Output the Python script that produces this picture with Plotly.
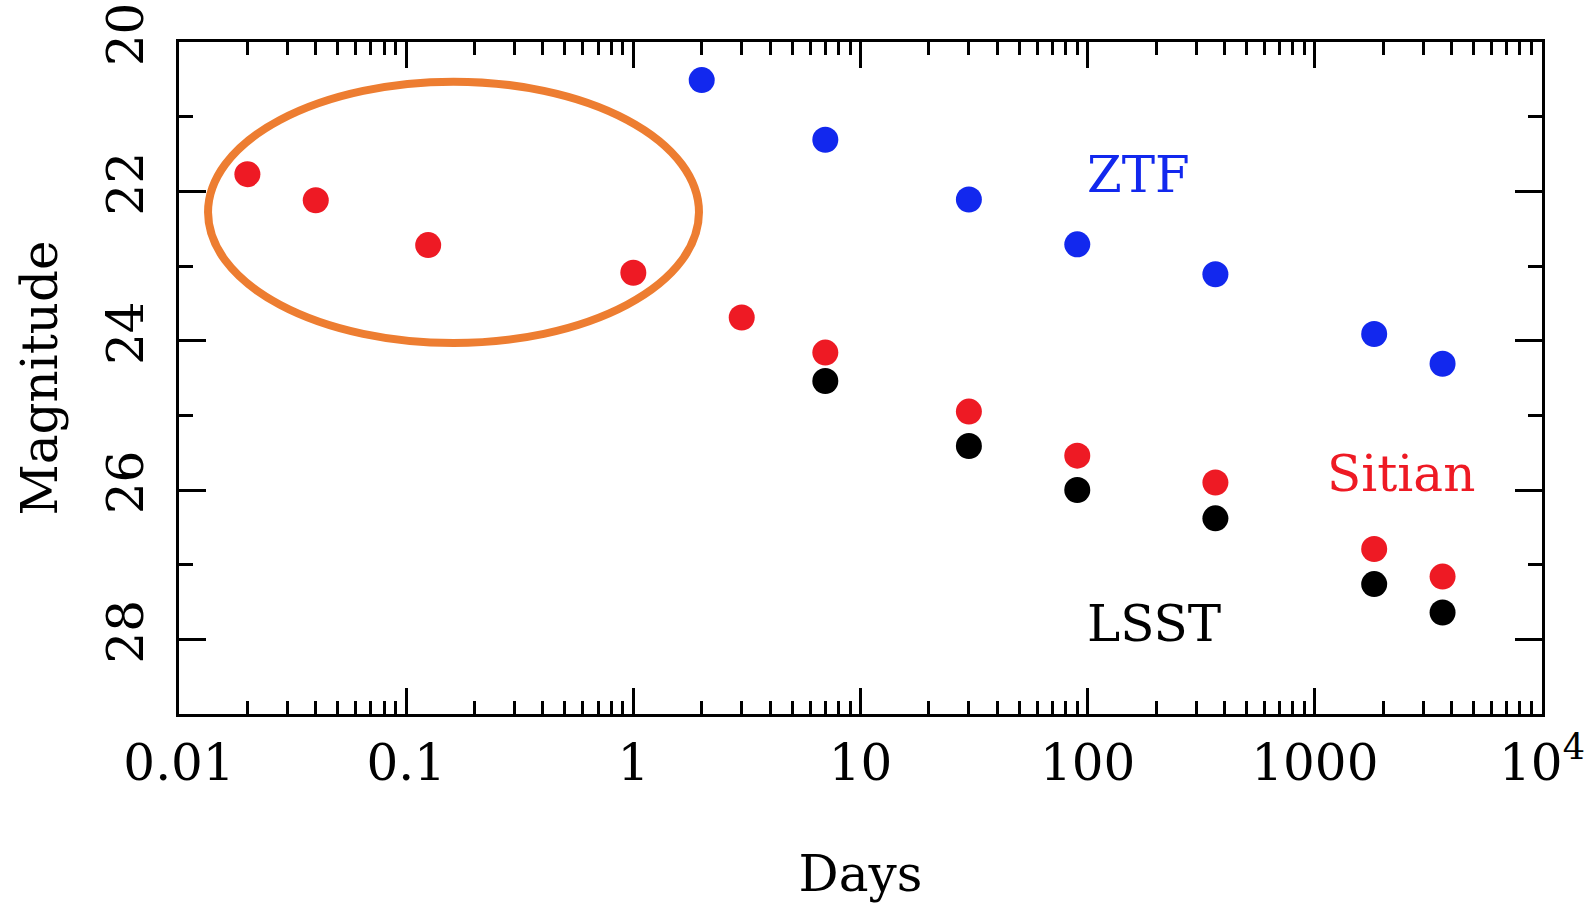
import plotly.graph_objects as go
import numpy as np

# Data
sitian_days = [0.02, 0.04, 0.125, 1, 3, 7, 30, 90, 365, 1825, 3650]
sitian_mag = [21.77, 22.12, 22.72, 23.09, 23.69, 24.16, 24.95, 25.54, 25.90, 26.79, 27.16]
ztf_days = [2, 7, 30, 90, 365, 1825, 3650]
ztf_mag = [20.51, 21.31, 22.11, 22.71, 23.11, 23.91, 24.31]
lsst_days = [7, 30, 90, 365, 1825, 3650]
lsst_mag = [24.54, 25.41, 26.00, 26.38, 27.26, 27.64]

x_tickvals = [0.01, 0.1, 1, 10, 100, 1000, 10000]
x_ticktext = ["0.01", "0.1", "1", "10", "100", "1000", "10<sup>4</sup>"]
y_tickvals = [20, 22, 24, 26, 28]
y_minor = [21, 23, 25, 27]

x_minor = [m * 10.0 ** e for e in range(-2, 4) for m in range(2, 10)]

FONT = "DejaVu Serif"
RED = "#ee1a24"
BLUE = "#1228ee"
BLACK = "#000000"

fig = go.Figure()
for xs, ys, c in [(ztf_days, ztf_mag, BLUE), (sitian_days, sitian_mag, RED), (lsst_days, lsst_mag, BLACK)]:
    fig.add_trace(go.Scatter(x=xs, y=ys, mode="markers",
                             marker=dict(color=c, size=26, line=dict(width=0)),
                             showlegend=False))

# Text labels
fig.add_annotation(x=np.log10(168), y=21.78, text="ZTF", showarrow=False,
                   font=dict(family=FONT, size=50, color=BLUE))
fig.add_annotation(x=np.log10(2393), y=25.79, text="Sitian", showarrow=False,
                   font=dict(family=FONT, size=50, color=RED))
fig.add_annotation(x=np.log10(195), y=27.79, text="LSST", showarrow=False,
                   font=dict(family=FONT, size=50, color=BLACK))

# Orange ellipse highlighting early points (paper coordinates)
fig.add_shape(type="circle", xref="paper", yref="paper",
              x0=0.0213, x1=0.3815, y0=0.552, y1=0.941,
              line=dict(color="#ed7d31", width=8))

axis_common = dict(showline=True, linecolor="black", linewidth=3, mirror="ticks",
                   ticks="inside", tickcolor="black", tickwidth=3,
                   showgrid=False, zeroline=False,
                   tickfont=dict(family=FONT, size=50, color="black"))

fig.update_xaxes(type="log", range=[-2, 4], tickmode="array",
                 tickvals=x_tickvals, ticktext=x_ticktext, ticklen=26,
                 minor=dict(tickmode="array", tickvals=x_minor, ticks="inside",
                            ticklen=13, tickwidth=3, tickcolor="black"),
                 title=dict(text="Days", font=dict(family=FONT, size=50, color="black"), standoff=65),
                 ticklabelstandoff=3,
                 **axis_common)
fig.update_yaxes(range=[29, 20], tickmode="array", tickvals=y_tickvals,
                 ticktext=[str(v) for v in y_tickvals], ticklen=27, tickangle=-90,
                 minor=dict(tickmode="array", tickvals=y_minor, ticks="inside",
                            ticklen=14, tickwidth=3, tickcolor="black"),
                 title=dict(text="Magnitude", font=dict(family=FONT, size=50, color="black"), standoff=24),
                 ticklabelstandoff=13,
                 **axis_common)

fig.update_layout(width=1596, height=905,
                  margin=dict(l=179, r=54, t=42, b=191, autoexpand=False),
                  paper_bgcolor="white", plot_bgcolor="white")

fig.write_html("out.html")
